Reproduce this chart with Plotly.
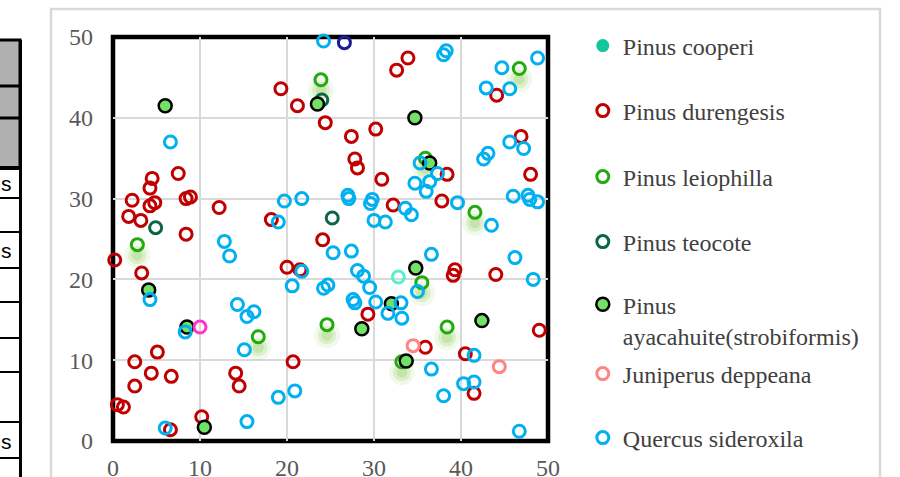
import plotly.graph_objects as go

# ---------------- data ----------------
cooperi_x = [None]
cooperi_y = [None]

durengesis_x = [19.3, 21.2, 24.4, 33.9, 32.6, 44.1, 27.4, 30.2, 27.8, 28.1, 30.9, 38.4, 46.9, 48.0,
                7.5, 4.5, 4.25, 2.2, 8.4, 8.9, 4.8, 4.25, 1.8, 3.2, 12.2, 8.4, 0.2, 3.3, 18.2, 24.1,
                20.0, 21.5, 32.2, 37.8, 39.3, 39.1, 44.0, 29.3, 5.1, 2.5, 4.4, 6.7, 2.5, 14.1, 14.5,
                20.7, 0.5, 1.2, 10.2, 6.6, 49.0, 35.9, 40.5, 41.5]
durengesis_y = [43.6, 41.5, 39.4, 47.4, 45.9, 42.8, 37.7, 38.6, 34.9, 33.8, 32.4, 33.0, 37.7, 33.0,
                33.1, 32.5, 31.3, 29.8, 30.0, 30.2, 29.5, 29.1, 27.8, 27.3, 28.9, 25.6, 22.4, 20.8, 27.4, 24.9,
                21.5, 21.2, 29.2, 29.7, 21.2, 20.5, 20.6, 15.7, 11.0, 9.8, 8.4, 8.0, 6.8, 8.4, 6.8,
                9.8, 4.5, 4.2, 3.0, 1.4, 13.7, 11.6, 10.8, 5.9]

leiophilla_x = [23.9, 46.7, 35.9, 2.8, 41.6, 35.5, 16.7, 24.6, 38.4, 33.2]
leiophilla_y = [44.7, 46.1, 35.0, 24.3, 28.3, 19.6, 12.9, 14.4, 14.1, 9.8]

teocote_x = [24.0, 4.9, 25.2]
teocote_y = [42.2, 26.4, 27.6]

ayacahuite_x = [6.0, 23.5, 34.7, 36.4, 4.1, 34.8, 32.0, 8.5, 28.6, 42.4, 33.7, 10.5]
ayacahuite_y = [41.5, 41.7, 40.0, 34.4, 18.7, 21.4, 17.0, 14.1, 13.9, 14.9, 9.9, 1.7]

juniperus_x = [34.5, 44.4]
juniperus_y = [11.8, 9.2]

quercus_x = [24.2, 38.3, 38.0, 44.7, 48.8, 42.9, 45.6, 6.6, 45.6, 47.2, 42.6, 43.1, 35.3, 37.3,
             34.7, 36.0, 36.4, 33.6, 34.3, 39.6, 31.3, 30.0, 43.5, 27.0, 27.1, 29.8, 29.6, 46.0,
             47.7, 47.9, 48.8, 19.7, 21.7, 19.0, 12.8, 13.4, 25.3, 27.4, 36.6, 46.2, 48.3, 21.7,
             20.6, 24.2, 24.7, 28.1, 28.8, 29.5, 35.0, 27.6, 27.8, 30.2, 33.1, 31.6, 33.2, 4.25,
             14.3, 16.2, 15.4, 8.3, 15.1, 20.9, 19.0, 15.4, 6.0, 41.5, 36.6, 40.3, 41.5, 38.0, 46.7]
quercus_y = [49.5, 48.3, 47.8, 46.2, 47.4, 43.7, 43.6, 37.0, 37.0, 36.2, 34.9, 35.6, 34.4, 33.1,
             31.9, 30.9, 32.1, 28.8, 28.0, 29.5, 27.1, 27.3, 26.7, 30.4, 30.0, 29.9, 29.4, 30.3,
             30.4, 29.9, 29.6, 29.7, 30.0, 27.1, 24.7, 22.9, 23.3, 23.5, 23.1, 22.7, 20.0, 21.0,
             19.2, 18.9, 19.3, 21.1, 20.4, 19.0, 18.5, 17.5, 17.1, 17.2, 17.1, 15.8, 15.2, 17.5,
             16.9, 16.0, 15.4, 13.5, 11.3, 6.2, 5.4, 2.4, 1.6, 10.6, 8.9, 7.1, 7.3, 5.6, 1.2]

# points whose series is not in the visible part of the legend
other_navy_x, other_navy_y = [26.6], [49.3]
other_magenta_x, other_magenta_y = [10.0], [14.1]
other_aqua_x, other_aqua_y = [32.8], [20.3]

x_ticks = [0, 10, 20, 30, 40, 50]
y_ticks = [0, 10, 20, 30, 40, 50]

# ---------------- figure ----------------
SERIF = "Liberation Serif, Times New Roman, serif"
fig = go.Figure()

def hollow(name, xs, ys, color, legend, show=True):
    fig.add_trace(go.Scatter(
        x=xs, y=ys, mode="markers", name=name, legend=legend, showlegend=show,
        cliponaxis=False,
        marker=dict(symbol="circle-open", size=12, color=color, line=dict(width=3, color=color)),
    ))

fig.add_trace(go.Scatter(
    x=cooperi_x, y=cooperi_y, mode="markers", name="Pinus cooperi", legend="legend",
    marker=dict(symbol="circle", size=13, color="#14c79b", line=dict(width=0)),
))
hollow("Pinus durengesis", durengesis_x, durengesis_y, "#c00000", "legend2")

# soft green glow under the leiophilla markers
glow_y = [v - 1.3 for v in leiophilla_y]
for sz, op in [(26, 0.10), (18, 0.18), (11, 0.22)]:
    fig.add_trace(go.Scatter(
        x=leiophilla_x, y=glow_y, mode="markers", showlegend=False, hoverinfo="skip",
        cliponaxis=False,
        marker=dict(symbol="circle", size=sz, color=f"rgba(120,195,60,{op})", line=dict(width=0)),
    ))
hollow("Pinus leiophilla", leiophilla_x, leiophilla_y, "#22aa10", "legend3")
hollow("Pinus teocote", teocote_x, teocote_y, "#0b6648", "legend4")
fig.add_trace(go.Scatter(
    x=ayacahuite_x, y=ayacahuite_y, mode="markers", name="Pinus<br>ayacahuite(strobiformis)",
    legend="legend5", cliponaxis=False,
    marker=dict(symbol="circle", size=13, color="#72e266", line=dict(width=2.5, color="#000000")),
))
hollow("Juniperus deppeana", juniperus_x, juniperus_y, "#ff8585", "legend6")
hollow("Quercus sideroxila", quercus_x, quercus_y, "#00b0f0", "legend7")
hollow("other1", other_navy_x, other_navy_y, "#1c1c96", "legend", show=False)
hollow("other2", other_magenta_x, other_magenta_y, "#ff33cc", "legend", show=False)
hollow("other3", other_aqua_x, other_aqua_y, "#55f0cc", "legend", show=False)

axis_common = dict(
    range=[0, 50], tickvals=x_ticks, showgrid=True, gridcolor="#d9d9d9", gridwidth=2,
    zeroline=False, showline=False, ticks="", fixedrange=True,
    tickfont=dict(family=SERIF, size=24, color="#595959"),
)
fig.update_xaxes(**axis_common, ticklabelstandoff=10)
fig.update_yaxes(**{**axis_common, "tickvals": y_ticks}, ticklabelstandoff=19)

# legends, one per entry so the vertical spacing matches the reference
leg_y = [0.9777, 0.8168, 0.6535, 0.4926, 0.2990, 0.1658, 0.0074]
leg_names = ["legend", "legend2", "legend3", "legend4", "legend5", "legend6", "legend7"]
legend_layout = {}
for nm, yy in zip(leg_names, leg_y):
    legend_layout[nm] = dict(
        x=1.08, xanchor="left", y=yy, yanchor="middle", bgcolor="rgba(0,0,0,0)",
        font=dict(family=SERIF, size=24, color="#404040"), valign="top",
        itemclick=False, itemdoubleclick=False,
    )

def px_x(p):
    return (p - 113) / 435.0

def px_y(p):
    return (441 - p) / 404.0

shapes = []
# outer chart-area border
shapes.append(dict(type="rect", xref="paper", yref="paper", x0=px_x(51), x1=px_x(880),
                   y0=px_y(520), y1=px_y(9), line=dict(color="#d9d9d9", width=2.5),
                   fillcolor="rgba(0,0,0,0)", layer="below"))
# plot-area frame
shapes.append(dict(type="rect", xref="paper", yref="paper", x0=0, x1=1, y0=0, y1=1,
                   line=dict(color="#000000", width=4.5), layer="between"))
# table fragment on the left
shapes.append(dict(type="rect", xref="paper", yref="paper", x0=px_x(-10), x1=px_x(20),
                   y0=px_y(168), y1=px_y(40), fillcolor="#b0b0b0",
                   line=dict(color="#000000", width=3), layer="above"))
for yy, w in [(86, 3), (118, 3), (168, 4)]:
    shapes.append(dict(type="line", xref="paper", yref="paper", x0=px_x(-10), x1=px_x(20),
                       y0=px_y(yy), y1=px_y(yy), line=dict(color="#000000", width=w)))
for yy in [198, 232, 268, 302, 338, 372, 422, 458]:
    shapes.append(dict(type="line", xref="paper", yref="paper", x0=px_x(-10), x1=px_x(20),
                       y0=px_y(yy), y1=px_y(yy), line=dict(color="#000000", width=2)))
shapes.append(dict(type="line", xref="paper", yref="paper", x0=px_x(20.5), x1=px_x(20.5),
                   y0=px_y(40), y1=px_y(480), line=dict(color="#000000", width=3)))

annotations = []
for yy in [183, 250, 441]:
    annotations.append(dict(text="s", xref="paper", yref="paper", x=px_x(14), y=px_y(yy),
                            xanchor="right", yanchor="middle", showarrow=False,
                            font=dict(family="Liberation Sans, Arial, sans-serif", size=21,
                                      color="#000000")))

fig.update_layout(
    width=900, height=477,
    margin=dict(l=113, r=352, t=37, b=36, autoexpand=False),
    paper_bgcolor="#ffffff", plot_bgcolor="#ffffff",
    shapes=shapes, annotations=annotations,
    **legend_layout,
)

fig.write_html("out.html", config={"displayModeBar": False},
               post_script="document.body.style.margin='0px';")
